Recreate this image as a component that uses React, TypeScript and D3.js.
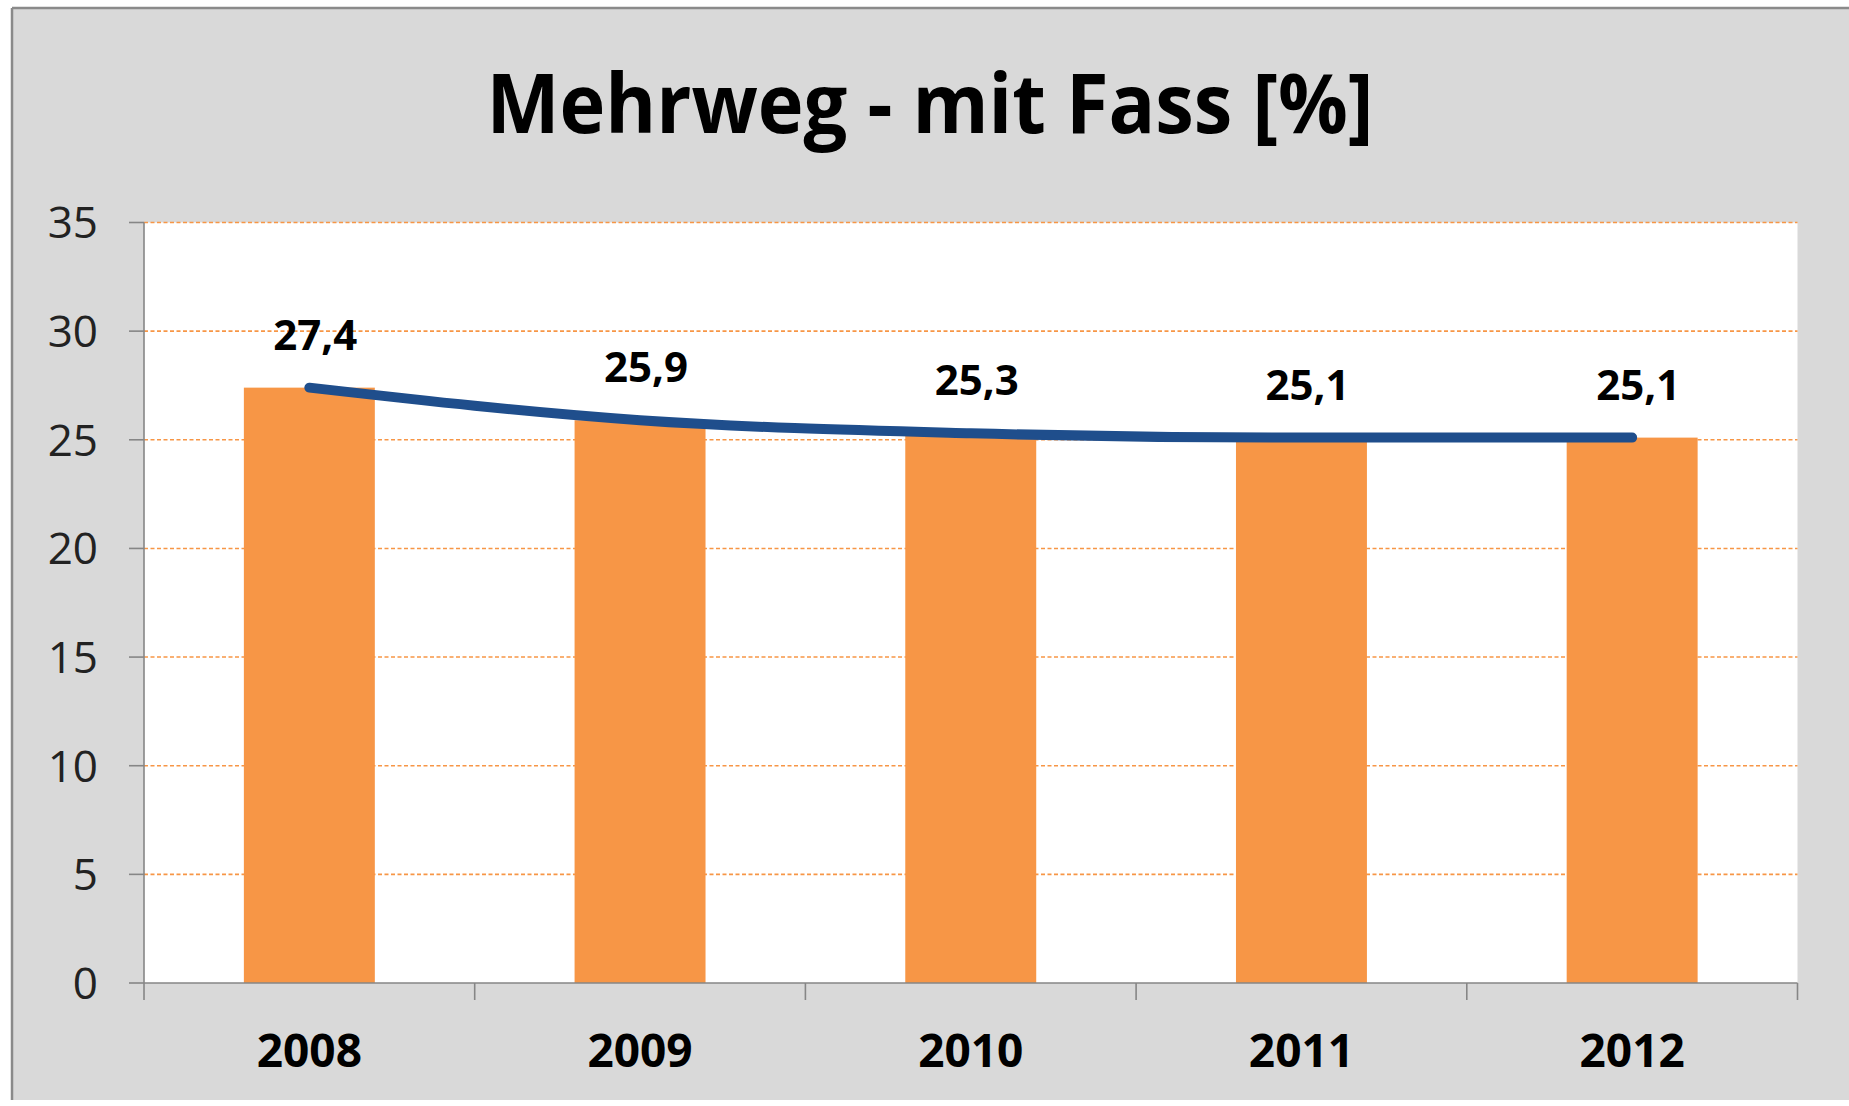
import React from "react";
import * as d3 from "d3";

const title = "Mehrweg - mit Fass [%]";
const years = ["2008", "2009", "2010", "2011", "2012"];
const values = [27.4, 25.9, 25.3, 25.1, 25.1];
const labels = ["27,4", "25,9", "25,3", "25,1", "25,1"];
const yTicks = [0, 5, 10, 15, 20, 25, 30, 35];

const W = 1849;
const H = 1106;
const plot = { left: 144, right: 1797.5, top: 222.5, bottom: 983 };
const FONT = "'Open Sans', 'Noto Sans', sans-serif";

export default function App() {
  const x = d3.scaleBand<string>().domain(years).range([plot.left, plot.right]).paddingInner(0.604).paddingOuter(0.302);
  const xOuter = d3.scaleBand<string>().domain(years).range([plot.left, plot.right]).padding(0);
  const y = d3.scaleLinear().domain([0, 35]).range([plot.bottom, plot.top]);
  const cx = (d: string) => (xOuter(d) as number) + xOuter.bandwidth() / 2;
  const line = d3
    .line<number>()
    .x((_, i) => cx(years[i]))
    .y((v) => y(v))
    .curve(d3.curveMonotoneX);
  const boundaries = years.map((d) => xOuter(d) as number).concat([plot.right]);

  return (
    <svg width={W} height={H} style={{ position: "absolute", left: 0, top: 0, display: "block" }}>
      <rect x={0} y={0} width={W} height={H} fill="#ffffff" />
      <rect x={12} y={8} width={W} height={1092} fill="#d9d9d9" />
      <line x1={12} y1={8} x2={W} y2={8} stroke="#8a8a8a" strokeWidth={2.5} />
      <line x1={12} y1={8} x2={12} y2={1100} stroke="#8a8a8a" strokeWidth={2.5} />
      <text
        x={930}
        y={133}
        textAnchor="middle"
        fontFamily={FONT}
        fontWeight={700}
        fontSize={82}
        textLength={887}
        lengthAdjust="spacingAndGlyphs"
        fill="#000"
      >
        {title}
      </text>
      <rect x={plot.left} y={plot.top} width={plot.right - plot.left} height={plot.bottom - plot.top} fill="#ffffff" />
      {yTicks.filter((t) => t > 0).map((t) => (
        <line
          key={"g" + t}
          x1={plot.left}
          x2={plot.right}
          y1={y(t)}
          y2={y(t)}
          stroke="#f79646"
          strokeWidth={1.6}
          strokeDasharray="4 2.5"
        />
      ))}
      {years.map((d, i) => (
        <rect
          key={"b" + d}
          x={x(d)}
          y={y(values[i])}
          width={x.bandwidth()}
          height={plot.bottom - y(values[i])}
          fill="#f79646"
        />
      ))}
      <line x1={plot.left} x2={plot.left} y1={plot.top} y2={plot.bottom} stroke="#868686" strokeWidth={1.6} />
      <line x1={plot.left} x2={plot.right} y1={plot.bottom} y2={plot.bottom} stroke="#868686" strokeWidth={1.6} />
      {yTicks.map((t) => (
        <g key={"t" + t}>
          <line x1={plot.left - 15} x2={plot.left} y1={y(t)} y2={y(t)} stroke="#868686" strokeWidth={1.6} />
          <text
            x={98}
            y={y(t)}
            dy="0.36em"
            textAnchor="end"
            fontFamily={FONT}
            fontSize={44}
            fill="#222"
          >
            {t}
          </text>
        </g>
      ))}
      {boundaries.map((b, i) => (
        <line key={"xt" + i} x1={b} x2={b} y1={plot.bottom} y2={plot.bottom + 17} stroke="#868686" strokeWidth={1.6} />
      ))}
      {years.map((d) => (
        <text
          key={"xl" + d}
          x={cx(d)}
          y={1067}
          textAnchor="middle"
          fontFamily={FONT}
          fontWeight={700}
          fontSize={46}
          fill="#000"
        >
          {d}
        </text>
      ))}
      <path d={line(values) || ""} fill="none" stroke="#1f4e8c" strokeWidth={10} strokeLinecap="round" />
      {years.map((d, i) => (
        <text
          key={"l" + d}
          x={cx(d) + 6}
          y={y(values[i]) - 38}
          textAnchor="middle"
          fontFamily={FONT}
          fontWeight={700}
          fontSize={42}
          fill="#000"
        >
          {labels[i]}
        </text>
      ))}
    </svg>
  );
}
